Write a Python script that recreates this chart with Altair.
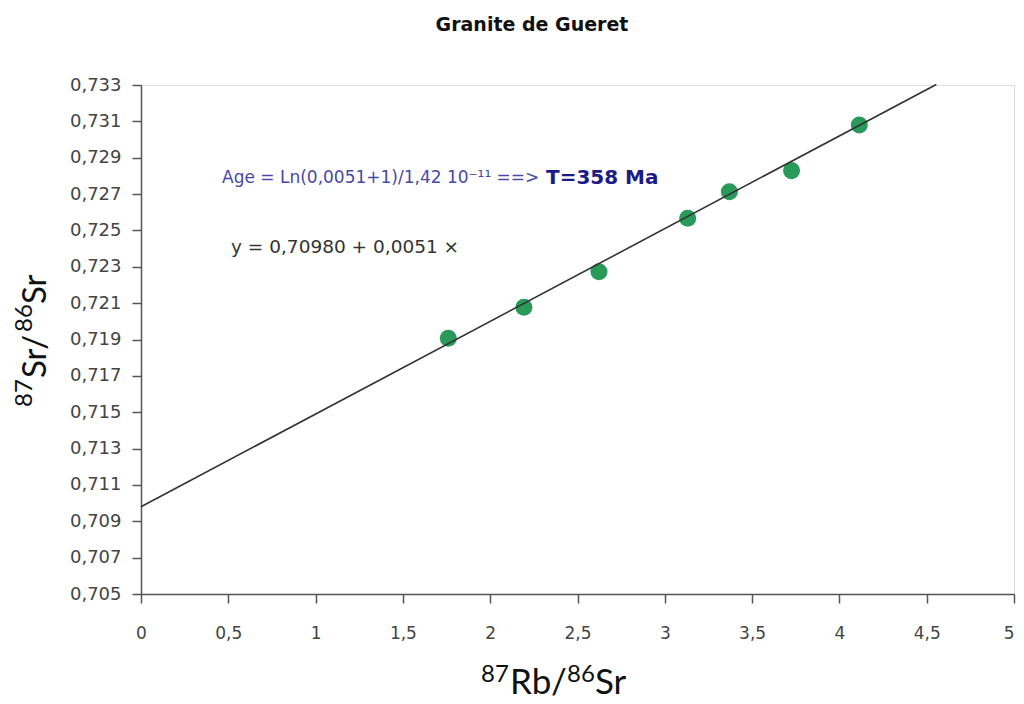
import altair as alt
import pandas as pd

# Sample values (87Rb/86Sr, 87Sr/86Sr)
rb_sr = [1.760, 2.193, 2.623, 3.131, 3.370, 3.726, 4.114]
sr_sr = [0.71907, 0.72077, 0.72273, 0.72567, 0.72713, 0.72829, 0.73080]

# Isochron line end points (y = 0,70980 + 0,0051 x)
line_x = [0.0, 4.555]
line_y = [0.7098, 0.73303]

x_ticks = [0, 0.5, 1, 1.5, 2, 2.5, 3, 3.5, 4, 4.5, 5]
y_ticks = [0.705, 0.707, 0.709, 0.711, 0.713, 0.715, 0.717, 0.719,
           0.721, 0.723, 0.725, 0.727, 0.729, 0.731, 0.733]

title_text = ["Granite de Gueret"]
age_text = ["Age = Ln(0,0051+1)/1,42 10\u207b\u00b9\u00b9 ==>"]
age_result = ["T=358 Ma"]
eq_text = ["y = 0,70980 + 0,0051 \u00d7"]
# axis title pieces: mass number superscripts and element names
x_title_parts = ["87", "Rb/", "86", "Sr"]
y_title_parts = ["87", "Sr/", "86", "Sr"]

pts = pd.DataFrame({"x": rb_sr, "y": sr_sr})
ln = pd.DataFrame({"x": line_x, "y": line_y})

xscale = alt.Scale(domain=[0, 5], nice=False, zero=False)
yscale = alt.Scale(domain=[0.705, 0.733], nice=False, zero=False)


def make_xaxis():
    return alt.Axis(
        values=x_ticks,
        labelExpr="replace(format(datum.value, '~g'), '.', ',')",
        labelOverlap=False, labelFlush=False, labelBound=False,
        labelAlign={"condition": {"test": "datum.value == 5", "value": "right"},
                    "value": "center"},
        grid=False, domainColor="#555555", domainWidth=1.5,
        tickColor="#555555", tickWidth=1.5, tickSize=9,
        labelFont="DejaVu Sans", labelFontSize=17, labelColor="#444444",
        labelPadding=22, title=None,
    )


def make_yaxis():
    return alt.Axis(
        values=y_ticks,
        labelExpr="replace(format(datum.value, '.3f'), '.', ',')",
        labelOverlap=False, labelFlush=False, labelBound=False,
        grid=False, domainColor="#555555", domainWidth=1.5,
        tickColor="#555555", tickWidth=1.5, tickSize=9,
        labelFont="DejaVu Sans", labelFontSize=18, labelColor="#444444",
        labelPadding=11, title=None,
    )


points = alt.Chart(pts).mark_point(
    filled=True, shape="circle", size=290, color="#2a9a5a", opacity=1
).encode(
    x=alt.X("x:Q", scale=xscale, axis=make_xaxis()),
    y=alt.Y("y:Q", scale=yscale, axis=make_yaxis()),
)

line = alt.Chart(ln).mark_line(color="#333333", strokeWidth=1.6).encode(
    x=alt.X("x:Q", scale=xscale, axis=make_xaxis()),
    y=alt.Y("y:Q", scale=yscale, axis=make_yaxis()),
)


def label(text, x, y, size, color, weight="normal", font="DejaVu Sans",
          angle=0, baseline="middle", align="left"):
    kw = dict(font=font, fontSize=size, fontWeight=weight, color=color,
              align=align, baseline=baseline)
    if angle:
        kw["angle"] = angle
    return alt.Chart(pd.DataFrame({"t": [text]})).mark_text(**kw).encode(
        text="t:N", x=alt.value(x), y=alt.value(y))


title = label(title_text[0], 391, -60, 19, "#111111", weight="bold",
              align="center")
age = label(age_text[0], 81, 93, 17, "#4848a8")
age2 = label(age_result[0], 405, 93, 20, "#1c1c88", weight="bold")
eq = label(eq_text[0], 90, 162, 18.5, "#333333")

# x axis title, composed with real superscripts
xt = [
    label(x_title_parts[0], 340, 597, 24, "#111111", font="Lato", baseline="alphabetic"),
    label(x_title_parts[1], 369, 609, 35, "#111111", font="Lato", baseline="alphabetic"),
    label(x_title_parts[2], 426, 597, 24, "#111111", font="Lato", baseline="alphabetic"),
    label(x_title_parts[3], 454, 609, 35, "#111111", font="Lato", baseline="alphabetic"),
]
# y axis title, rotated
yt = [
    label(y_title_parts[0], -109, 322, 24, "#111111", font="Lato", angle=270, baseline="alphabetic"),
    label(y_title_parts[1], -95, 293, 33, "#111111", font="Lato", angle=270, baseline="alphabetic"),
    label(y_title_parts[2], -109, 247, 24, "#111111", font="Lato", angle=270, baseline="alphabetic"),
    label(y_title_parts[3], -95, 219, 33, "#111111", font="Lato", angle=270, baseline="alphabetic"),
]

chart = alt.layer(points, line, title, age, age2, eq, *xt, *yt).properties(
    width=873, height=509,
    autosize=alt.AutoSizeParams(type="none"),
    padding={"left": 133, "top": 77, "right": 2, "bottom": 110},
).configure_view(
    stroke="#a8a8a8", strokeWidth=1.5
).configure(background="white")

chart.save("out.html", embed_options={"renderer": "svg", "actions": False})
